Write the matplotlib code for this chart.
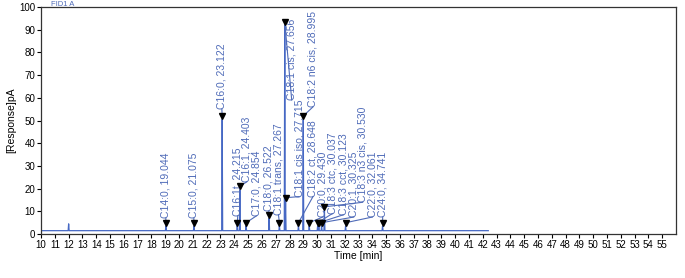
import matplotlib
matplotlib.use("Agg")
import matplotlib.pyplot as plt

# peak table: name, retention time, apex height, label position (x, bottom y)
names = ["C14:0", "C15:0", "C16:0", "C16:1t", "C16:1", "C17:0", "C18:0",
         "C18:1 trans", "C18:1 cis", "C18:1 cis iso", "C18:2 ct", "C18:2 n6 cis",
         "C20:0", "C18:3 ctc", "C18:3 cct", "C20:1", "C18:3 n3 cis", "C22:0", "C24:0"]
rts = [19.044, 21.075, 23.122, 24.215, 24.403, 24.854, 26.522,
       27.267, 27.656, 27.715, 28.648, 28.995,
       29.430, 30.037, 30.123, 30.325, 30.530, 32.061, 34.741]
heights = [3.5, 3.5, 50.5, 3.5, 19.5, 3.5, 7.0,
           3.5, 92.0, 14.5, 3.5, 50.5,
           3.5, 3.5, 3.5, 3.5, 10.5, 3.5, 3.5]
label_x = [19.04, 21.07, 23.10, 24.25, 24.90, 25.60, 26.50,
           27.20, 28.16, 28.70, 29.70, 29.70,
           30.40, 31.10, 31.90, 32.65, 33.30, 34.00, 34.75]
label_y = [7.0, 7.0, 55.0, 8.0, 23.0, 8.0, 10.0,
           8.5, 59.0, 16.5, 16.5, 56.0,
           7.5, 9.0, 8.5, 7.5, 14.0, 7.5, 7.5]

# baseline and unlabelled spike
baseline = 1.5
run_start, run_end = 10.0, 42.4
spike_rt, spike_h = 12.0, 4.5

trace_col = "#4668c4"
text_col = "#4f6bb8"

fig = plt.figure(figsize=(6.85, 2.78), dpi=100)
ax = fig.add_axes([0.0599, 0.158, 0.927, 0.817])

# build chromatogram from the peak table
pk_w = 0.035
xs = [run_start]
ys = [baseline]
for rt, h in sorted([(spike_rt, spike_h)] + list(zip(rts, heights))):
    xs += [rt - pk_w, rt, rt + pk_w]
    ys += [baseline, h, baseline]
xs.append(run_end)
ys.append(baseline)
ax.plot(xs, ys, color=trace_col, lw=0.9)

for name, rt, h, lx, ly in zip(names, rts, heights, label_x, label_y):
    ax.plot([rt, lx], [h + 1.5, ly], color=text_col, lw=0.8)
    ax.plot(rt, h + 1.5, marker="v", color="black", markersize=5, ls="none", zorder=5)
    ax.text(lx, ly, "%s, %.3f" % (name, rt), rotation=90, ha="center", va="bottom",
            fontsize=7.5, color=text_col, family="Liberation Sans")

ax.set_xlim(10, 56)
ax.set_ylim(0, 100)
ax.set_xticks(range(10, 56))
ax.set_yticks(range(0, 101, 10))
ax.tick_params(direction="out", length=3, width=0.8, labelsize=7, pad=1)
for lab in ax.get_xticklabels() + ax.get_yticklabels():
    lab.set_family("Liberation Sans")
for sp in ax.spines.values():
    sp.set_linewidth(0.9)
    sp.set_color("#333333")

ax.set_xlabel("Time [min]", fontsize=7.5, family="Liberation Sans", labelpad=1)
ax.set_ylabel("[Response]pA", fontsize=7.5, family="Liberation Sans", labelpad=2)
fig.text(0.075, 0.998, "FID1 A", fontsize=5.5, color=text_col, va="top",
         family="Liberation Sans")

fig.savefig("out.png", dpi=100, facecolor="white")
